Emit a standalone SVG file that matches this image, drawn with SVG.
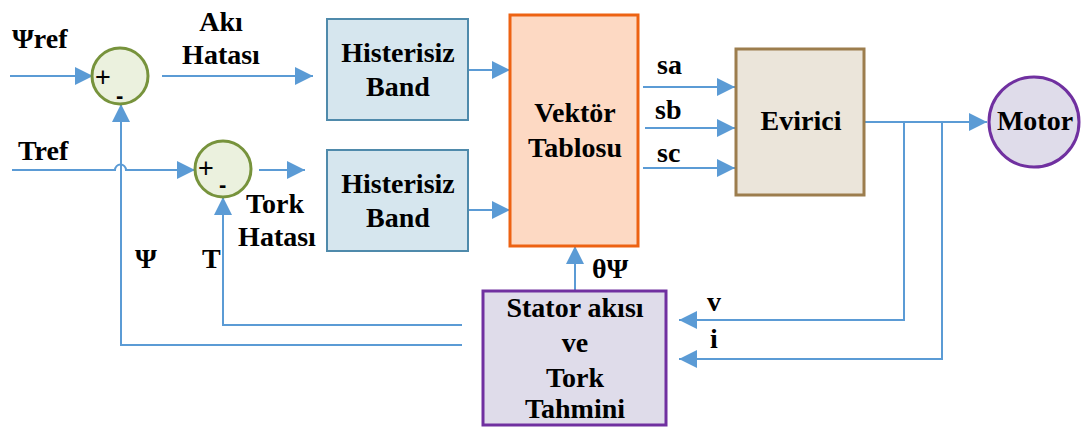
<svg xmlns="http://www.w3.org/2000/svg" width="1081" height="427" viewBox="0 0 1081 427">
  <style>
    text { font-family: 'Liberation Serif', 'DejaVu Serif', serif; font-weight: 700; font-size: 28px; fill: #000; }
    .c { text-anchor: middle; }
    .sign { font-family: 'Liberation Sans', sans-serif; font-weight: 400; font-size: 27px; }
    .minus { font-family: 'Liberation Sans', sans-serif; font-weight: 700; font-size: 22px; }
    .wire { fill: none; stroke: #5b9bd5; stroke-width: 2; }
    .arr { marker-end: url(#ah); }
    .sum { fill: #ebf1de; stroke: #77933c; stroke-width: 3; }
    .hyst { fill: #d6e6ee; stroke: #4f8aab; stroke-width: 2; }
    .vek { fill: #fdd9c3; stroke: #ed6212; stroke-width: 3; }
    .evr { fill: #ebe5da; stroke: #9c7d4d; stroke-width: 3; }
    .pur { fill: #dfdcea; stroke: #7030a0; stroke-width: 3; }
  </style>
  <defs>
    <marker id="ah" markerUnits="userSpaceOnUse" markerWidth="18" markerHeight="18" refX="18" refY="9" orient="auto">
      <path d="M0,0 L18,9 L0,18 z" fill="#5b9bd5"/>
    </marker>
  </defs>

  <g id="connectors">
    <path class="wire arr" d="M10,76 H93"/>
    <path class="wire arr" d="M162,76 H313"/>
    <path class="wire arr" d="M12,170 H115 A5.5,5.5 0 0 1 126,170 H195"/>
    <path class="wire arr" d="M259,170 H305"/>
    <path class="wire arr" d="M468,70 H510"/>
    <path class="wire arr" d="M468,210 H510"/>
    <path class="wire arr" d="M643,87 H735"/>
    <path class="wire arr" d="M645,128 H735"/>
    <path class="wire arr" d="M643,168 H735"/>
    <path class="wire arr" d="M864,122 H987"/>
    <path class="wire arr" d="M904,122 V320 H679"/>
    <path class="wire arr" d="M942,122 V359 H679"/>
    <path class="wire arr" d="M575,291 V246"/>
    <path class="wire arr" d="M462,325 H223 V197"/>
    <path class="wire arr" d="M462,345 H121 V104"/>
  </g>

  <g id="labels">
    <text x="12" y="48">Ψref</text>
    <text class="c" x="221" y="31">Akı</text>
    <text class="c" x="221" y="64">Hatası</text>
    <text x="18" y="160">Tref</text>
    <text class="c" x="275" y="213">Tork</text>
    <text class="c" x="277" y="246">Hatası</text>
    <text x="135" y="268">Ψ</text>
    <text x="202" y="268">T</text>
    <text x="657" y="74">sa</text>
    <text x="655" y="119">sb</text>
    <text x="657" y="162">sc</text>
    <text x="592" y="278">θΨ</text>
    <text x="707" y="311">v</text>
    <text x="710" y="348">i</text>
  </g>

  <g id="sum1">
    <circle class="sum" cx="120" cy="76" r="28"/>
    <text class="sign" x="95" y="86">+</text>
    <text class="minus" x="116" y="103">-</text>
  </g>

  <g id="sum2">
    <circle class="sum" cx="223" cy="169" r="28"/>
    <text class="sign" x="198" y="177">+</text>
    <text class="minus" x="219" y="192">-</text>
  </g>

  <g id="hyst1">
    <rect class="hyst" x="327" y="19" width="141" height="101"/>
    <text class="c" x="398" y="62">Histerisiz</text>
    <text class="c" x="398" y="96">Band</text>
  </g>

  <g id="hyst2">
    <rect class="hyst" x="327" y="150" width="141" height="101"/>
    <text class="c" x="398" y="193">Histerisiz</text>
    <text class="c" x="398" y="227">Band</text>
  </g>

  <g id="vektor">
    <rect class="vek" x="510" y="15" width="128" height="231"/>
    <text class="c" x="575" y="122">Vektör</text>
    <text class="c" x="575" y="157">Tablosu</text>
  </g>

  <g id="evirici">
    <rect class="evr" x="736" y="49" width="128" height="146"/>
    <text class="c" x="801" y="130">Evirici</text>
  </g>

  <g id="motor">
    <circle class="pur" cx="1034" cy="122" r="45"/>
    <text class="c" x="1035" y="130">Motor</text>
  </g>

  <g id="stator">
    <rect class="pur" x="483" y="291" width="183" height="134"/>
    <text class="c" x="575" y="317">Stator akısı</text>
    <text class="c" x="575" y="352">ve</text>
    <text class="c" x="575" y="387">Tork</text>
    <text class="c" x="575" y="418">Tahmini</text>
  </g>
</svg>
